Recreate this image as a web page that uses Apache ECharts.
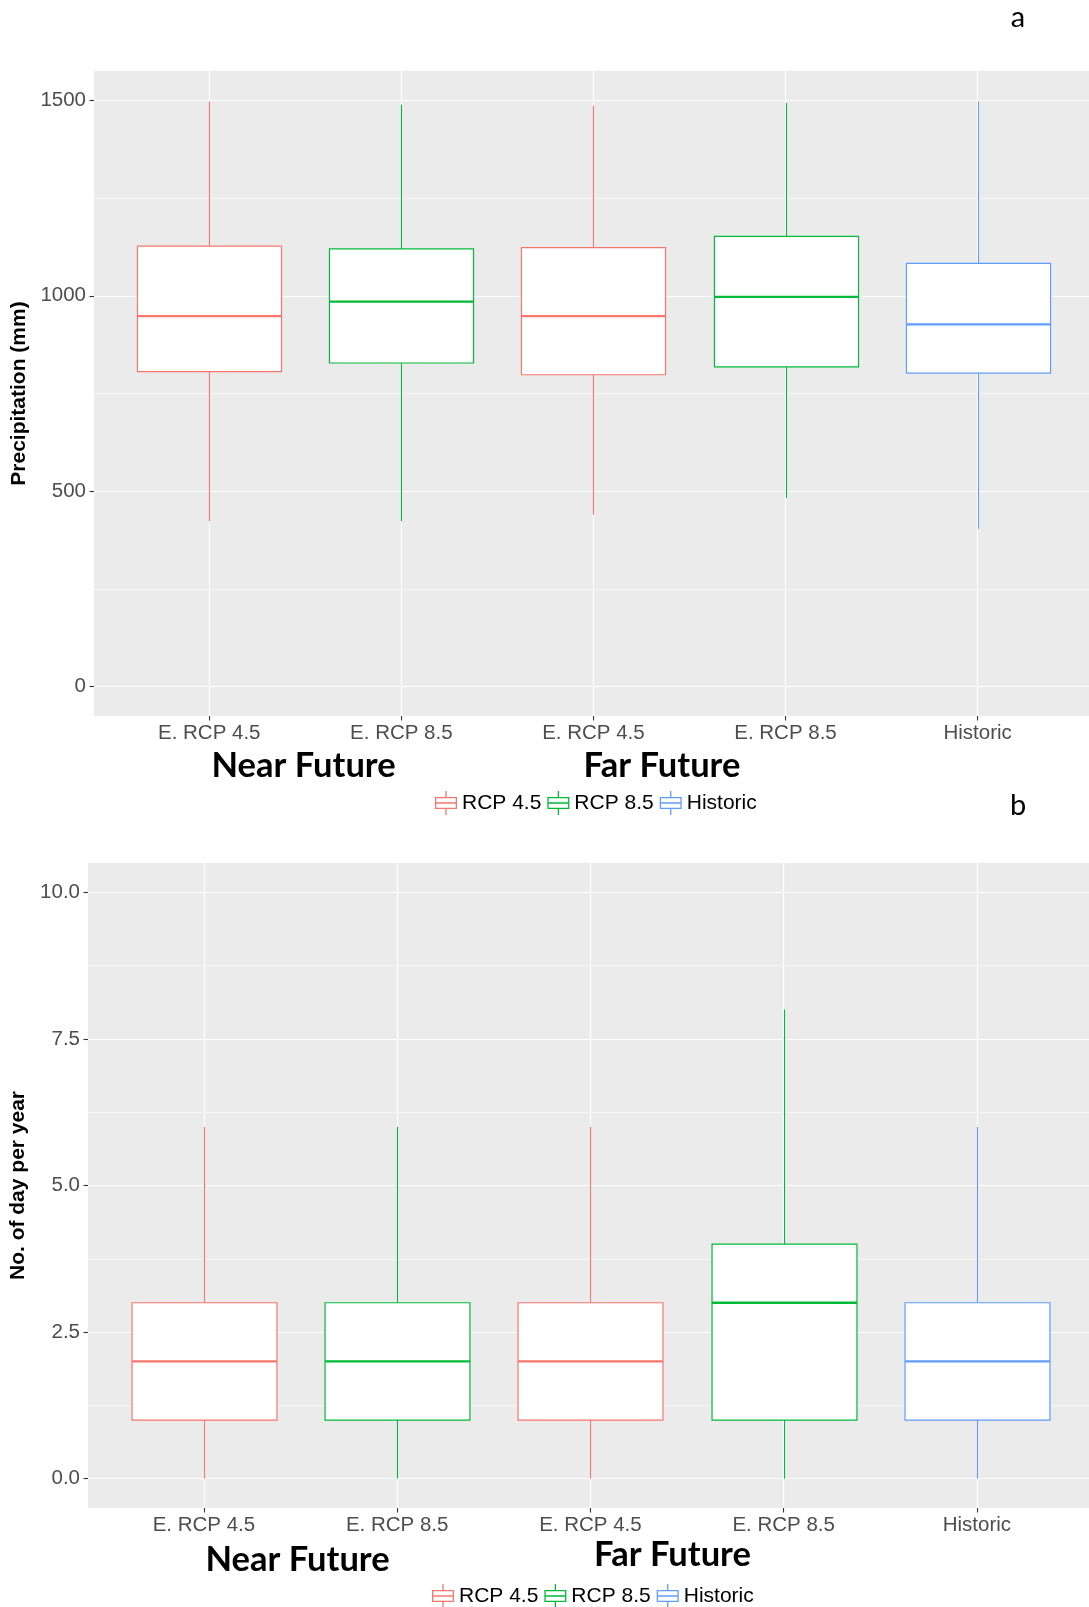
<!DOCTYPE html>
<html>
<head>
<meta charset="utf-8">
<script src="https://cdn.jsdelivr.net/npm/echarts@6/dist/echarts.min.js"></script>
<style>
  html, body { margin: 0; padding: 0; background: #fff; }
  #chart { width: 1089px; height: 1607px; }
</style>
</head>
<body>
<div id="chart"></div>
<script>
// ---------- data ----------
const categories = ['E. RCP 4.5', 'E. RCP 8.5', 'E. RCP 4.5', 'E. RCP 8.5', 'Historic'];
const categoryIndex = [0, 1, 2, 3, 4];
const boxScenario = ['RCP 4.5', 'RCP 8.5', 'RCP 4.5', 'RCP 8.5', 'Historic'];
const scenarioNames = ['RCP 4.5', 'RCP 8.5', 'Historic'];
const scenarioColors = ['#F8766D', '#00BA38', '#619CFF'];

// (a) Precipitation (mm)
const precipMin    = [423, 423, 440, 483, 404];
const precipQ1     = [806, 828, 798, 818, 802];
const precipMedian = [948, 985, 948, 997, 927];
const precipQ3     = [1127, 1120, 1123, 1152, 1083];
const precipMax    = [1497, 1489, 1486, 1493, 1497];
const precipTicks      = [0, 500, 1000, 1500];
const precipMinorTicks = [250, 750, 1250];

// (b) No. of day per year
const daysMin    = [0, 0, 0, 0, 0];
const daysQ1     = [1, 1, 1, 1, 1];
const daysMedian = [2, 2, 2, 3, 2];
const daysQ3     = [3, 3, 3, 4, 3];
const daysMax    = [6, 6, 6, 8, 6];
const daysTicks      = [0, 2.5, 5, 7.5, 10];
const daysMinorTicks = [1.25, 3.75, 6.25, 8.75];

const groupLabels = ['Near Future', 'Far Future'];
const panelLetters = ['a', 'b'];

// ---------- helpers ----------
const AXIS_FONT = '"Liberation Sans", Arial, sans-serif';
const CAL_FONT = 'Lato, "Open Sans", sans-serif';

function buildData(scn, mins, q1s, meds, q3s, maxs) {
  const out = [];
  for (let i = 0; i < boxScenario.length; i++) {
    if (boxScenario[i] === scn) out.push([categoryIndex[i], mins[i], q1s[i], meds[i], q3s[i], maxs[i]]);
  }
  return out;
}

function renderBox(params, api) {
  const x = api.value(0);
  const pMin = api.coord([x, api.value(1)]);
  const pQ1 = api.coord([x, api.value(2)]);
  const pMed = api.coord([x, api.value(3)]);
  const pQ3 = api.coord([x, api.value(4)]);
  const pMax = api.coord([x, api.value(5)]);
  const half = api.size([0.75, 0])[0] / 2;
  const color = api.visual('color');
  const cx = Math.round(pMed[0]) + 0.5;
  return {
    type: 'group',
    children: [
      { type: 'line', shape: { x1: cx, y1: pMax[1], x2: cx, y2: pQ3[1] }, style: { stroke: color, lineWidth: 1.1 } },
      { type: 'line', shape: { x1: cx, y1: pQ1[1], x2: cx, y2: pMin[1] }, style: { stroke: color, lineWidth: 1.1 } },
      { type: 'rect', shape: { x: cx - half, y: pQ3[1], width: 2 * half, height: pQ1[1] - pQ3[1] },
        style: { fill: '#FFFFFF', stroke: color, lineWidth: 1.2 } },
      { type: 'line', shape: { x1: cx - half, y1: pMed[1], x2: cx + half, y2: pMed[1] }, style: { stroke: color, lineWidth: 2.3 } }
    ]
  };
}

function xAxisFor(gridIndex) {
  return {
    gridIndex, type: 'value', min: -0.6, max: 4.58, position: 'bottom',
    axisLine: { show: false, onZero: false },
    axisTick: { show: true, length: 4.5, lineStyle: { color: '#333333', width: 1.1 }, customValues: categoryIndex },
    axisLabel: { customValues: categoryIndex, formatter: v => categories[Math.round(v)],
      color: '#4D4D4D', fontSize: 20.5, fontFamily: AXIS_FONT, margin: 7 },
    splitLine: { show: true, lineStyle: { color: '#FFFFFF', width: 1.2 } }
  };
}

function yAxesFor(gridIndex, min, max, ticks, minorTicks, name, nameGap, fmt) {
  return [
    {
      gridIndex, type: 'value', min, max, position: 'left',
      axisLine: { show: false, onZero: false },
      axisTick: { show: true, length: 4.5, lineStyle: { color: '#333333', width: 1.1 }, customValues: ticks },
      axisLabel: { customValues: ticks, formatter: fmt, color: '#4D4D4D', fontSize: 20.5, fontFamily: AXIS_FONT, margin: 8 },
      splitLine: { show: true, lineStyle: { color: '#FFFFFF', width: 1.2 } },
      name, nameLocation: 'middle', nameGap, nameRotate: 90,
      nameTextStyle: { color: '#000000', fontSize: 21, fontWeight: 'bold', fontFamily: AXIS_FONT }
    },
    {
      gridIndex, type: 'value', min, max, position: 'left',
      axisLine: { show: false, onZero: false },
      axisTick: { show: false, customValues: minorTicks },
      axisLabel: { show: false },
      splitLine: { show: true, lineStyle: { color: '#FFFFFF', width: 0.6 } }
    }
  ];
}

const legendIcon = 'path://M0 6H22V18H0Z M1.3 7.3V16.7H20.7V7.3Z M1.3 11.3H20.7V12.7H1.3Z M10.35 0H11.65V6H10.35Z M10.35 18H11.65V24H10.35Z';

function legendFor(left, top) {
  return {
    left, top, orient: 'horizontal',
    itemWidth: 22, itemHeight: 24, itemGap: 6,
    icon: legendIcon, selectedMode: false,
    itemStyle: { borderWidth: 0 },
    textStyle: { color: '#000000', fontSize: 21, fontFamily: AXIS_FONT },
    data: scenarioNames.map((n, i) => ({ name: n, itemStyle: { color: scenarioColors[i], borderWidth: 0 } }))
  };
}

const series = [];
scenarioNames.forEach((n, i) => {
  series.push({
    type: 'custom', name: n, xAxisIndex: 0, yAxisIndex: 0,
    itemStyle: { color: scenarioColors[i] },
    encode: { x: 0, y: [1, 2, 3, 4, 5] },
    renderItem: renderBox,
    data: buildData(n, precipMin, precipQ1, precipMedian, precipQ3, precipMax)
  });
});
scenarioNames.forEach((n, i) => {
  series.push({
    type: 'custom', name: n, xAxisIndex: 1, yAxisIndex: 2,
    itemStyle: { color: scenarioColors[i] },
    encode: { x: 0, y: [1, 2, 3, 4, 5] },
    renderItem: renderBox,
    data: buildData(n, daysMin, daysQ1, daysMedian, daysQ3, daysMax)
  });
});

function label(text, x, y, size, weight) {
  return { type: 'text', x, y, style: { text, fontSize: size, fontWeight: weight, fontFamily: CAL_FONT,
    fill: '#000000', textAlign: 'center', textVerticalAlign: 'middle' } };
}

const option = {
  backgroundColor: '#FFFFFF',
  animation: false,
  grid: [
    { left: 94, top: 71, right: 0, height: 645, show: true, backgroundColor: '#EBEBEB', borderWidth: 0, outerBoundsMode: 'none' },
    { left: 88, top: 863, right: 0, height: 645, show: true, backgroundColor: '#EBEBEB', borderWidth: 0, outerBoundsMode: 'none' }
  ],
  xAxis: [xAxisFor(0), xAxisFor(1)],
  yAxis: [
    ...yAxesFor(0, -75, 1575, precipTicks, precipMinorTicks, 'Precipitation (mm)', 63, v => String(v)),
    ...yAxesFor(1, -0.5, 10.5, daysTicks, daysMinorTicks, 'No. of day per year', 57, v => v.toFixed(1))
  ],
  legend: [legendFor(430, 786), legendFor(427, 1579)],
  graphic: [
    label(groupLabels[0], 303.6, 766, 34.5, 'bold'),
    label(groupLabels[1], 662, 766, 34.5, 'bold'),
    label(groupLabels[0], 297.6, 1559.5, 34.5, 'bold'),
    label(groupLabels[1], 672.5, 1554.5, 34.5, 'bold'),
    label(panelLetters[0], 1018, 17.3, 29, 'normal'),
    label(panelLetters[1], 1018, 805.7, 29, 'normal')
  ],
  series
};

const chart = echarts.init(document.getElementById('chart'), null, { renderer: 'canvas' });
chart.setOption(option);
</script>
</body>
</html>
